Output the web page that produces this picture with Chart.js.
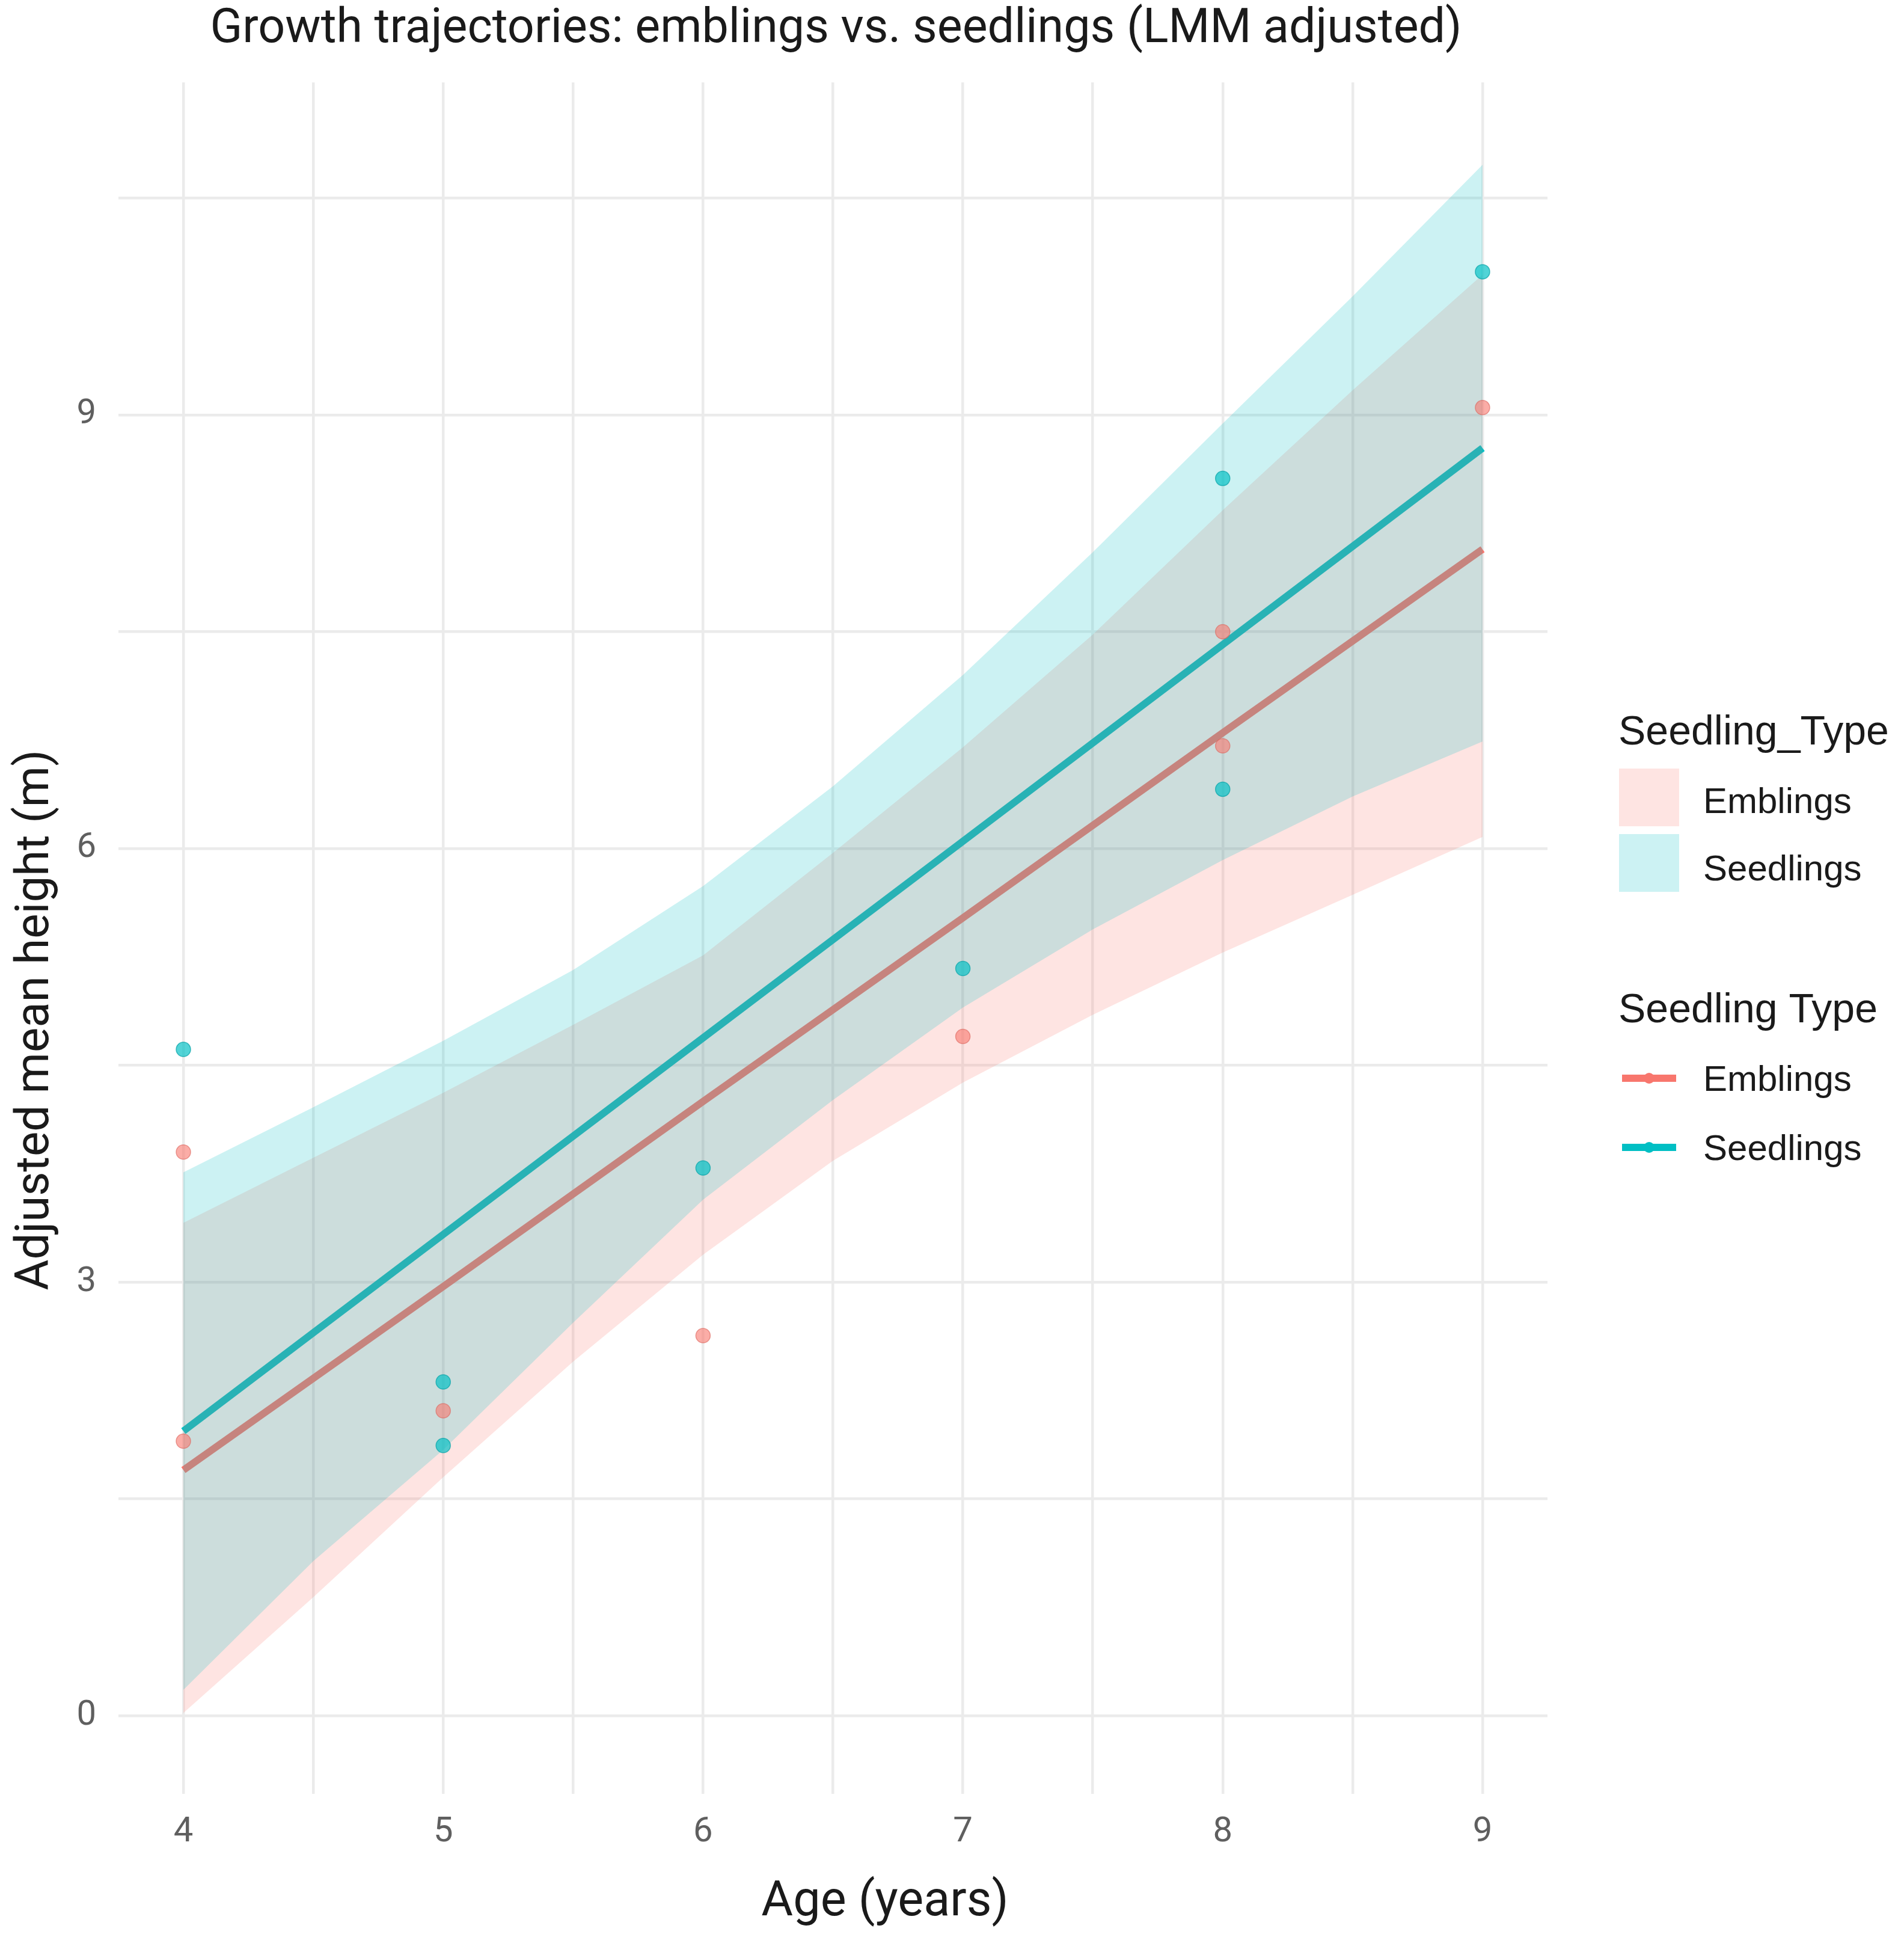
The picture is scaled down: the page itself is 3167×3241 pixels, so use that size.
<!DOCTYPE html>
<html>
<head>
<meta charset="utf-8">
<title>Growth trajectories</title>
<script src="https://cdn.jsdelivr.net/npm/chart.js@4.4.1/dist/chart.umd.min.js"></script>
<style>
    html, body { margin: 0; padding: 0; background: #ffffff; }
    #wrap { position: relative; width: 3167px; height: 3241px; }
</style>
</head>
<body>
<div id="wrap"><canvas id="growthChart"></canvas></div>
<script>
// Chart data
const chartTitle = 'Growth trajectories: emblings vs. seedlings (LMM adjusted)';
const xTitle = 'Age (years)';
const yTitle = 'Adjusted mean height (m)';

const ages = [4, 5, 6, 7, 8, 9];
const emblingsFit = [1.70, 2.97, 4.25, 5.52, 6.80, 8.07];
const seedlingsFit = [1.97, 3.33, 4.69, 6.05, 7.41, 8.77];

// Confidence bands
const bandAges = [4, 4.5, 5, 5.5, 6, 6.5, 7, 7.5, 8, 8.5, 9];
const emblingsLower = [0.02, 0.82, 1.65, 2.45, 3.19, 3.84, 4.38, 4.85, 5.28, 5.68, 6.08];
const emblingsUpper = [3.41, 3.86, 4.31, 4.78, 5.26, 5.97, 6.70, 7.48, 8.34, 9.17, 9.97];
const seedlingsLower = [0.18, 1.07, 1.84, 2.72, 3.57, 4.26, 4.90, 5.44, 5.92, 6.36, 6.74];
const seedlingsUpper = [3.76, 4.21, 4.67, 5.16, 5.74, 6.43, 7.20, 8.05, 8.94, 9.82, 10.73];

// Observed group means
const emblingsObsAge = [4, 4, 5, 6, 7, 8, 8, 9];
const emblingsObs = [3.90, 1.90, 2.11, 2.63, 4.70, 7.50, 6.71, 9.05];
const seedlingsObsAge = [4, 5, 5, 6, 7, 8, 8, 9];
const seedlingsObs = [4.61, 2.31, 1.87, 3.79, 5.17, 8.56, 6.41, 9.99];

// Axis ticks / grid
const xGrid = [4, 4.5, 5, 5.5, 6, 6.5, 7, 7.5, 8, 8.5, 9];
const yGrid = [0, 1.5, 3, 4.5, 6, 7.5, 9, 10.5];

// Colours
const pinkLine = '#F8766D';
const tealLine = '#00BFC4';
const pinkBand = 'rgba(248, 118, 109, 0.2)';
const tealBand = 'rgba(0, 191, 196, 0.2)';

function toXY(xs, ys) {
    return xs.map((x, i) => ({ x: x, y: ys[i] }));
}

// Titles and the two ggplot-style legends
const annotations = {
    id: 'annotations',
    afterDraw(chart) {
        const ctx = chart.ctx;
        const area = chart.chartArea;
        ctx.save();

        // main title
        ctx.fillStyle = '#1a1a1a';
        ctx.font = '79px Roboto';
        ctx.textAlign = 'center';
        ctx.textBaseline = 'middle';
        ctx.fillText(chartTitle, (area.left + area.right) / 2 + 5, 50);

        // axis titles
        ctx.font = '81px Roboto';
        ctx.fillText(xTitle, 1472, 3165);
        ctx.save();
        ctx.translate(60, 1696);
        ctx.rotate(-Math.PI / 2);
        ctx.font = '78px Roboto';
        ctx.fillText(yTitle, 0, 0);
        ctx.restore();

        // legend 1: bands
        ctx.textAlign = 'left';
        ctx.textBaseline = 'alphabetic';
        ctx.font = '68px "Liberation Sans"';
        ctx.fillText('Seedling_Type', 2692, 1238);
        ctx.fillText('Seedling Type', 2692, 1700);

        ctx.fillStyle = pinkBand;
        ctx.fillRect(2693, 1278, 100, 96);
        ctx.fillStyle = tealBand;
        ctx.fillRect(2693, 1387, 100, 96);

        ctx.fillStyle = '#1a1a1a';
        ctx.font = '60px "Liberation Sans"';
        ctx.textBaseline = 'middle';
        ctx.fillText('Emblings', 2833, 1335);
        ctx.fillText('Seedlings', 2833, 1447);
        ctx.fillText('Emblings', 2833, 1797);
        ctx.fillText('Seedlings', 2833, 1912);

        // legend 2: lines with point
        [[1793, pinkLine], [1908, tealLine]].forEach(function(k) {
            ctx.strokeStyle = k[1];
            ctx.lineWidth = 12;
            ctx.beginPath();
            ctx.moveTo(2698, k[0]);
            ctx.lineTo(2788, k[0]);
            ctx.stroke();
            ctx.fillStyle = k[1];
            ctx.beginPath();
            ctx.arc(2743, k[0], 9, 0, Math.PI * 2);
            ctx.fill();
        });

        ctx.restore();
    }
};

function bandEdge(label, ys, color, fill, order) {
    return {
        label: label,
        data: toXY(bandAges, ys),
        borderWidth: 0,
        borderColor: 'rgba(0,0,0,0)',
        backgroundColor: color,
        pointRadius: 0,
        fill: fill,
        tension: 0,
        order: order
    };
}

const ctx = document.getElementById('growthChart').getContext('2d');
Chart.defaults.font.family = 'Roboto';

new Chart(ctx, {
    type: 'line',
    data: {
        datasets: [
            {
                label: 'Emblings fit',
                data: toXY(ages, emblingsFit),
                borderColor: pinkLine,
                borderWidth: 12,
                pointRadius: 0,
                fill: false,
                tension: 0,
                order: 6
            },
            {
                label: 'Seedlings fit',
                data: toXY(ages, seedlingsFit),
                borderColor: tealLine,
                borderWidth: 12,
                pointRadius: 0,
                fill: false,
                tension: 0,
                order: 5
            },
            bandEdge('Emblings lower', emblingsLower, pinkBand, false, 4),
            bandEdge('Emblings upper', emblingsUpper, pinkBand, '-1', 3),
            bandEdge('Seedlings lower', seedlingsLower, tealBand, false, 2),
            bandEdge('Seedlings upper', seedlingsUpper, tealBand, '-1', 1),
            {
                label: 'Emblings observed',
                data: toXY(emblingsObsAge, emblingsObs),
                showLine: false,
                pointRadius: 12,
                pointBorderWidth: 1.5,
                pointBackgroundColor: 'rgba(248, 118, 109, 0.6)',
                pointBorderColor: 'rgba(220, 100, 92, 0.6)',
                order: 0
            },
            {
                label: 'Seedlings observed',
                data: toXY(seedlingsObsAge, seedlingsObs),
                showLine: false,
                pointRadius: 12,
                pointBorderWidth: 1.5,
                pointBackgroundColor: 'rgba(0, 191, 196, 0.68)',
                pointBorderColor: 'rgba(0, 160, 165, 0.68)',
                order: 0
            }
        ]
    },
    options: {
        responsive: true,
        maintainAspectRatio: false,
        devicePixelRatio: 1,
        animation: false,
        layout: {
            padding: { top: 137, right: 593, bottom: 0, left: 0 }
        },
        plugins: {
            legend: { display: false },
            tooltip: { enabled: false },
            title: { display: false }
        },
        scales: {
            x: {
                type: 'linear',
                min: 3.75,
                max: 9.25,
                afterBuildTicks: function(scale) {
                    scale.ticks = xGrid.map(v => ({ value: v }));
                },
                afterFit: function(scale) {
                    scale.height = 258;
                },
                border: { display: false },
                grid: {
                    color: '#ebebeb',
                    lineWidth: 4.5,
                    drawTicks: false
                },
                ticks: {
                    autoSkip: false,
                    maxRotation: 0,
                    padding: 30,
                    color: '#5f5f5f',
                    font: { size: 58 },
                    callback: function(value) {
                        return Number.isInteger(value) ? String(value) : '';
                    }
                }
            },
            y: {
                type: 'linear',
                min: -0.54,
                max: 11.3,
                afterBuildTicks: function(scale) {
                    scale.ticks = yGrid.map(v => ({ value: v }));
                },
                afterFit: function(scale) {
                    scale.width = 197;
                },
                border: { display: false },
                grid: {
                    color: '#ebebeb',
                    lineWidth: 4.5,
                    drawTicks: false
                },
                ticks: {
                    autoSkip: false,
                    padding: 37,
                    color: '#5f5f5f',
                    font: { size: 58 },
                    callback: function(value) {
                        return value % 3 === 0 ? String(value) : '';
                    }
                }
            }
        }
    },
    plugins: [annotations]
});
</script>
</body>
</html>
